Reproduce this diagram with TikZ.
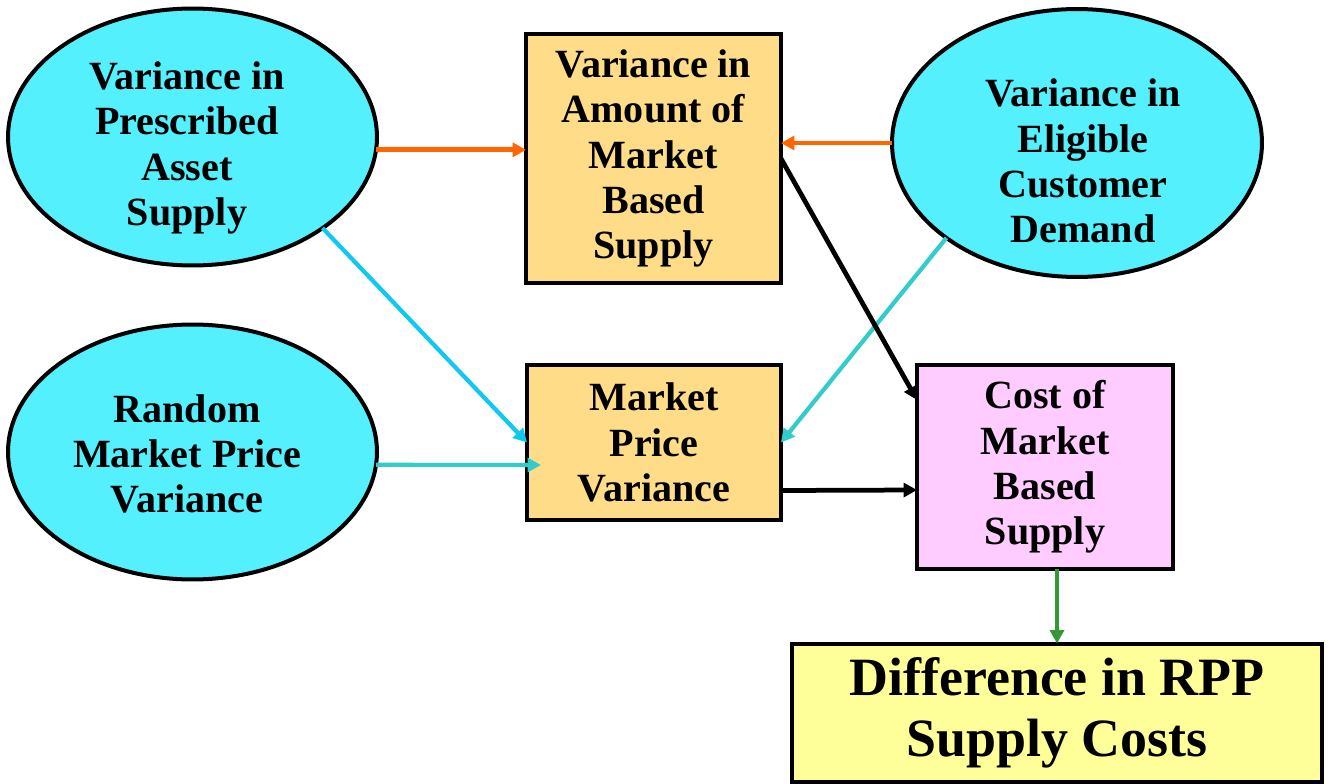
\documentclass[tikz,border=0pt]{standalone}
\usepackage{fontspec}
\setmainfont{Liberation Serif}
\usetikzlibrary{shapes.geometric,arrows.meta,calc}
\definecolor{ellfill}{RGB}{85,240,253}
\definecolor{boxfill}{RGB}{255,221,136}
\definecolor{pinkfill}{RGB}{255,204,255}
\definecolor{yelfill}{RGB}{255,255,153}
\definecolor{arrorange}{RGB}{255,102,0}
\definecolor{arrcyan}{RGB}{16,200,240}
\definecolor{arrteal}{RGB}{51,204,204}
\definecolor{arrgreen}{RGB}{51,153,51}
\tikzset{
  ell/.style={ellipse,draw=black,line width=0.08cm,fill=ellfill,inner sep=0pt,outer sep=0pt},
  lbl/.style={align=center,font=\bfseries\fontsize{22.8}{25.8}\selectfont,inner sep=0pt},
  rbox/.style={rectangle,draw=black,line width=0.08cm,align=center,inner sep=0pt,outer sep=0pt,
    font=\bfseries\fontsize{22.8}{25.8}\selectfont},
  conn/.style={line width=0.095cm,-{Triangle[length=0.27cm,width=0.28cm]}},
}
\begin{document}
\begin{tikzpicture}[x=0.02cm,y=-0.02cm]
\useasboundingbox (0,0) rectangle (1332,784);
% ellipses
\node[ell,minimum width=7.38cm,minimum height=5.14cm] (e1) at (192.5,137) {};
\node[lbl] (t1) at (187,148) {Variance in\\Prescribed\\Asset\\Supply};
\node[ell,minimum width=7.38cm,minimum height=5.10cm] (e2) at (192.5,452) {};
\node[lbl] (t2) at (187,454) {Random\\Market Price\\Variance};
\node[ell,minimum width=7.40cm,minimum height=5.36cm] (e3) at (1077,143) {};
\node[lbl] (t3) at (1083,161) {Variance in\\Eligible\\Customer\\Demand};
% boxes
\node[rbox,fill=boxfill,minimum width=5.10cm,minimum height=4.98cm] (b1) at (653.5,158.5)
  {Variance in\\Amount of\\Market\\Based\\Supply};
\node[rbox,fill=boxfill,minimum width=5.08cm,minimum height=3.10cm] (b2) at (654,442.5)
  {Market\\Price\\Variance};
\node[rbox,fill=pinkfill,minimum width=5.12cm,minimum height=4.08cm] (p) at (1045,467)
  {Cost of\\Market\\Based\\Supply};
\node[rbox,fill=yelfill,minimum width=10.62cm,minimum height=2.78cm,
  font=\bfseries\fontsize{30.7}{34.5}\selectfont] (y) at (1057,713)
  {Difference in RPP\\Supply Costs};
% connectors
\draw[conn,arrorange] (e1.-4) -- (b1.west |- e1.-4);
\draw[conn,arrorange] (e3.west) -- (b1.east |- e3.west);
\draw[conn,arrcyan,line width=0.085cm] (e1.-35.7) -- (b2.west);
\draw[conn,arrteal,line width=0.085cm] (e2.-4) -- ($(b2.west)+(14,22.5)$);
\draw[conn,arrteal,line width=0.085cm] (e3.216.7) -- (b2.east);
\draw[conn,black] (b1.east) -- ($(p.north west)+(0,35)$);
\draw[conn,black] ($(b2.east)+(0,48)$) -- ($(p.west)+(0,23)$);
\draw[conn,arrgreen] (p.south -| y.north) -- (y.north);
\end{tikzpicture}
\end{document}
